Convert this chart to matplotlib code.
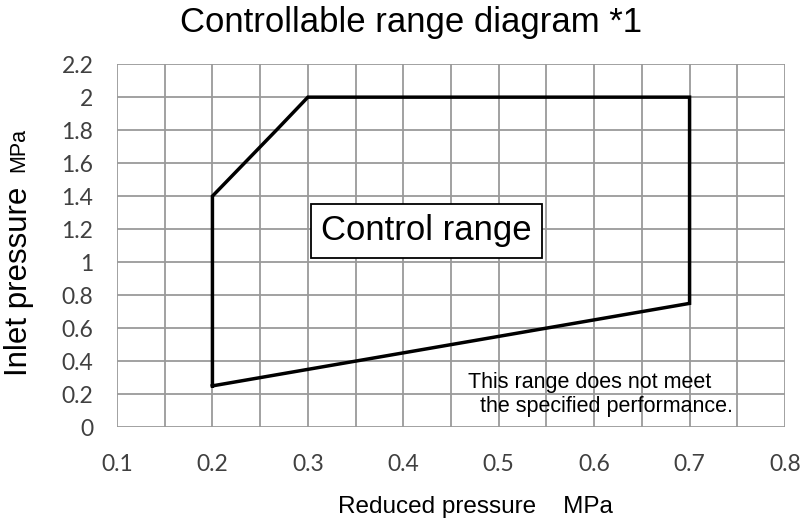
import matplotlib
matplotlib.use("Agg")
import matplotlib.pyplot as plt
import numpy as np

# Data
region_x = [0.2, 0.2, 0.267, 0.3, 0.7, 0.7, 0.2]
region_y = [0.25, 1.4, 1.8, 2.0, 2.0, 0.75, 0.25]
x_ticks = [0.1, 0.2, 0.3, 0.4, 0.5, 0.6, 0.7, 0.8]
y_ticks = [0, 0.2, 0.4, 0.6, 0.8, 1, 1.2, 1.4, 1.6, 1.8, 2, 2.2]
y_tick_labels = ["0", "0.2", "0.4", "0.6", "0.8", "1", "1.2", "1.4", "1.6", "1.8", "2", "2.2"]
x_tick_labels = ["0.1", "0.2", "0.3", "0.4", "0.5", "0.6", "0.7", "0.8"]

fig = plt.figure(figsize=(8, 5.26), dpi=100)
ax = fig.add_axes([0.14625, 0.188, 0.835, 0.69])

ax.set_xlim(0.1, 0.8)
ax.set_ylim(0, 2.2)

# grid
for xv in np.arange(0.1, 0.8001, 0.05):
    ax.axvline(xv, color="#9a9a9a", lw=1.3, zorder=1)
for yv in y_ticks:
    ax.axhline(yv, color="#9a9a9a", lw=1.3, zorder=1)
for s in ax.spines.values():
    s.set_visible(False)

ax.plot(region_x, region_y, color="black", lw=2.5, solid_joinstyle="miter", zorder=3)

ax.set_xticks(x_ticks)
ax.set_xticklabels(x_tick_labels, fontfamily="Lato", fontsize=16.5, color="#404040")
ax.set_yticks(y_ticks)
ax.set_yticklabels(y_tick_labels, fontfamily="Lato", fontsize=16.5, color="#404040")
ax.tick_params(axis="x", length=0, pad=19)
ax.tick_params(axis="y", length=0, pad=17)

ax.text(0.4245, 1.19, "Control range", ha="center", va="center", fontsize=25,
        fontfamily="Liberation Sans", zorder=4,
        bbox=dict(boxstyle="square,pad=0.3", fc="white", ec="black", lw=1.3))

ax.text(0.4675, 0.2, "This range does not meet\n  the specified performance.",
        ha="left", va="center", fontsize=15.5, fontfamily="Liberation Sans",
        linespacing=1.18, zorder=4)

fig.text(0.514, 0.957, "Controllable range diagram *1", ha="center", va="center",
         fontsize=25, fontfamily="Liberation Sans")
fig.text(0.594, 0.036, "Reduced pressure    MPa", ha="center", va="center",
         fontsize=17.5, fontfamily="Liberation Sans")
fig.text(0.024, 0.466, "Inlet pressure", rotation=90, ha="center", va="center",
         fontsize=22.5, fontfamily="Liberation Sans")
fig.text(0.024, 0.715, "MPa", rotation=90, ha="center", va="center",
         fontsize=15.5, fontfamily="Liberation Sans")

fig.savefig("out.png", dpi=100, facecolor="white")
